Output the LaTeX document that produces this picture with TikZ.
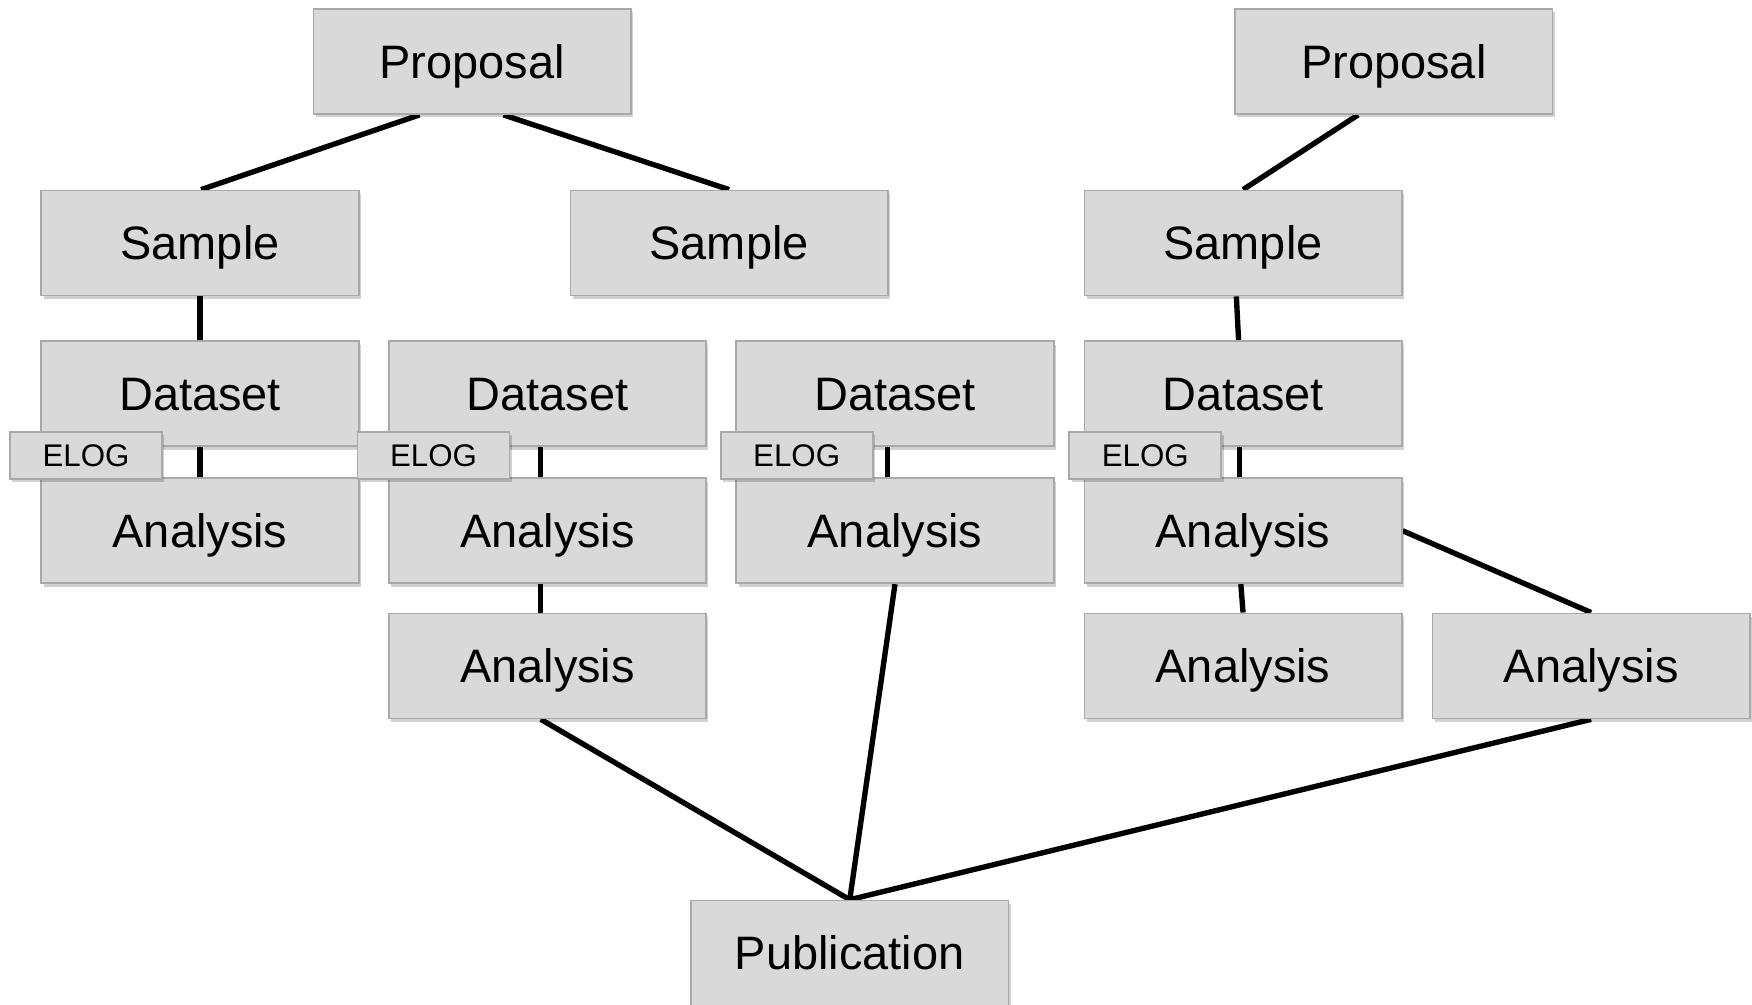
\documentclass[tikz,border=0pt]{standalone}
\usepackage{fontspec}
\setmainfont{Liberation Sans}
\usetikzlibrary{calc,shadows}
\pgfdeclarelayer{background}
\pgfsetlayers{background,main}
\definecolor{boxfill}{HTML}{D9D9D9}
\definecolor{boxline}{HTML}{A9A9A9}
\tikzset{
  box/.style={rectangle, fill=boxfill, draw=boxline, line width=0.8pt,
    minimum width=142pt, minimum height=47pt, inner sep=0pt,
    text height=16pt, text depth=1pt,
    font=\fontsize{21}{24}\selectfont,
    drop shadow={shadow xshift=1pt, shadow yshift=-1.5pt, opacity=0.18, fill=black}},
  elog/.style={box, minimum width=68pt, minimum height=21pt,
    text height=10pt, text depth=0pt,
    font=\fontsize{14}{16}\selectfont},
  link/.style={line width=2.4pt, black}
}
\begin{document}
\begin{tikzpicture}[x=0.5pt,y=-0.5pt]
\useasboundingbox (0,0) rectangle (1568,898.6);
% row 0
\node[box] (p1) at (422.5,55) {Proposal};
\node[box] (p2) at (1247.5,55) {Proposal};
% samples
\node[box] (s1) at (179,217.5) {Sample};
\node[box] (s2) at (652.5,217.5) {Sample};
\node[box] (s3) at (1112.5,217.5) {Sample};
% datasets
\node[box] (d1) at (179,352.5) {Dataset};
\node[box] (d2) at (490,352.5) {Dataset};
\node[box] (d3) at (801,352.5) {Dataset};
\node[box] (d4) at (1112.5,352.5) {Dataset};
% analyses row 1
\node[box] (a1) at (179,475) {Analysis};
\node[box] (a2) at (490,475) {Analysis};
\node[box] (a3) at (801,475) {Analysis};
\node[box] (a4) at (1112.5,475) {Analysis};
% analyses row 2
\node[box] (b2) at (490,596) {Analysis};
\node[box] (b4) at (1112.5,596) {Analysis};
\node[box] (c4) at (1424,596) {Analysis};
% publication
\node[box] (pub) at (760.5,853) {Publication};
% ELOG tags
\node[elog] (e1) at (77,407.5) {ELOG};
\node[elog] (e2) at (388,407.5) {ELOG};
\node[elog] (e3) at (713,407.5) {ELOG};
\node[elog] (e4) at (1025,407.5) {ELOG};
% connectors
\begin{pgfonlayer}{background}
\draw[link] ($(p1.south)+(-47,0)$) -- ($(s1.north)+(1,0)$);
\draw[link] ($(p1.south)+(28,0)$) -- (s2.north);
\draw[link] ($(p2.south)+(-32,0)$) -- (s3.north);
\draw[link] (s1.south) -- (d1.north);
\draw[link] (d1.south) -- (a1.north);
\draw[link] ($(d2.south)+(-6,0)$) -- ($(a2.north)+(-6,0)$);
\draw[link] ($(a2.south)+(-6,0)$) -- ($(b2.north)+(-6,0)$);
\draw[link] ($(d3.south)+(-7,0)$) -- ($(a3.north)+(-7,0)$);
\draw[link] ($(s3.south)+(-6,0)$) -- ($(d4.north)+(-4,0)$);
\draw[link] ($(d4.south)+(-3,0)$) -- ($(a4.north)+(-3,0)$);
\draw[link] ($(a4.south)+(-2,0)$) -- (b4.north);
\draw[link] (a4.east) -- (c4.north);
\draw[link] ($(b2.south)+(-6,0)$) -- (pub.north);
\draw[link] (a3.south) -- (pub.north);
\draw[link] (c4.south) -- (pub.north);
\end{pgfonlayer}
\end{tikzpicture}
\end{document}
